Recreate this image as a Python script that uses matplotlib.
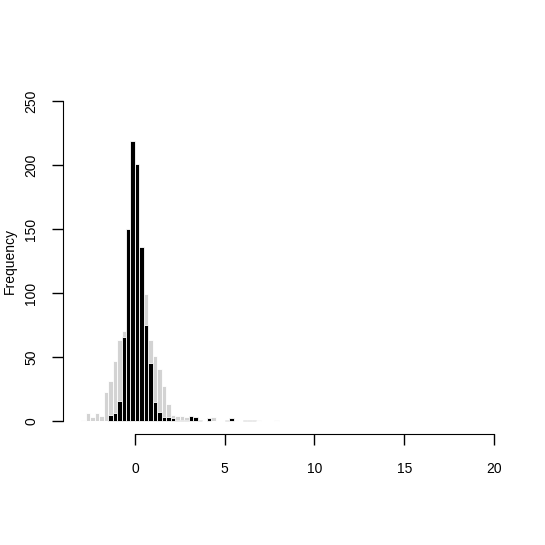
import numpy as np
import matplotlib.pyplot as plt

plt.rcParams['font.family'] = ['Liberation Sans', 'DejaVu Sans']

# histogram bins: width 0.25 starting at -3
bin_start = -3.0
bin_width = 0.25

grey_counts = [1, 6, 3, 6, 4, 23, 31, 47, 63, 70,
               90, 100, 105, 104, 99, 63, 51, 41, 27, 13,
               5, 4, 4, 3, 2, 1, 1, 0, 1, 3,
               0, 0, 1, 0, 1, 0, 0, 0, 0, 1,
               0, 0, 0, 1]
black_counts = [0, 0, 0, 0, 0, 0, 5, 6, 16, 66,
                150, 219, 201, 136, 75, 45, 15, 7, 3, 3,
                2, 1, 1, 1, 4, 3, 1, 0, 2, 0,
                0, 0, 1, 2, 0, 0, 1, 1, 1, 0,
                0, 0, 0, 0]

xticks = [0, 5, 10, 15, 20]
yticks = [0, 50, 100, 150, 200, 250]

left = bin_start + bin_width * np.arange(len(grey_counts))

fig = plt.figure(figsize=(5.45, 5.45), dpi=100)
ax = fig.add_axes([0.1156, 0.204, 0.8211, 0.634])

ax.bar(left, grey_counts, width=bin_width, align='edge', color='#d3d3d3',
       edgecolor='white', linewidth=0.6)
ax.bar(left, black_counts, width=bin_width, align='edge', color='black',
       edgecolor='white', linewidth=0.6)

ax.set_xlim(-4.01, 20.92)
ax.set_ylim(-10, 260)
ax.spines['top'].set_visible(False)
ax.spines['right'].set_visible(False)
ax.spines['left'].set_bounds(0, 250)
ax.spines['bottom'].set_bounds(0, 20)
ax.set_xticks(xticks)
ax.set_yticks(yticks)
ax.tick_params(direction='out', length=8, width=1, labelsize=10)
ax.tick_params(axis='x', pad=12)
ax.tick_params(axis='y', pad=10)
plt.setp(ax.get_yticklabels(), rotation=90, va='center')
ax.set_ylabel('Frequency', fontsize=10, labelpad=5)

fig.savefig('out.png', dpi=100)
